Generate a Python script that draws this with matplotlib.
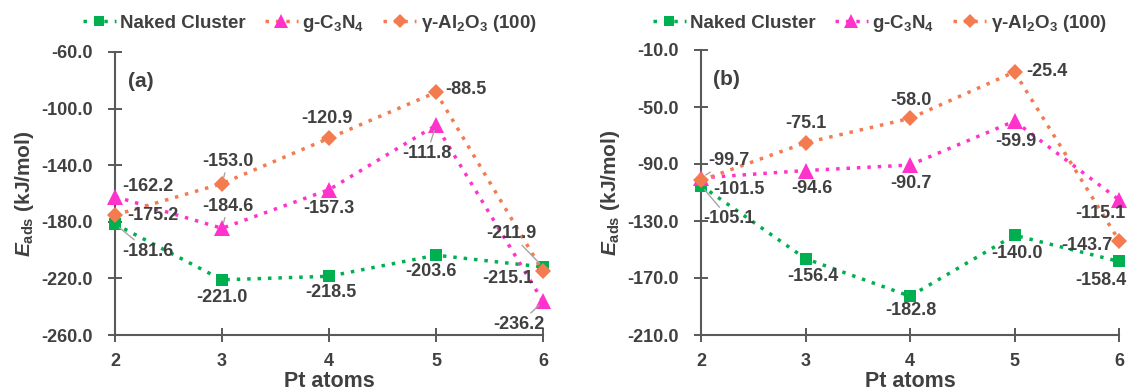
import matplotlib
matplotlib.use("Agg")
import matplotlib.pyplot as plt
from matplotlib.lines import Line2D

plt.rcParams['font.family'] = ['Liberation Sans', 'DejaVu Sans']
plt.rcParams['font.weight'] = 'bold'
plt.rcParams['mathtext.fontset'] = 'custom'
plt.rcParams['mathtext.rm'] = 'Liberation Sans:bold'
plt.rcParams['mathtext.bf'] = 'Liberation Sans:bold'
plt.rcParams['mathtext.it'] = 'Liberation Sans:bold:italic'

# ---- data ----
pt_atoms = [2, 3, 4, 5, 6]
series_names = ["Naked Cluster", "g-C$_{3}$N$_{4}$", "γ-Al$_{2}$O$_{3}$ (100)"]

a_naked = [-181.6, -221.0, -218.5, -203.6, -211.9]
a_gcn = [-162.2, -184.6, -157.3, -111.8, -236.2]
a_al2o3 = [-175.2, -153.0, -120.9, -88.5, -215.1]

b_naked = [-105.1, -156.4, -182.8, -140.0, -158.4]
b_gcn = [-99.7, -94.6, -90.7, -59.9, -115.1]
b_al2o3 = [-101.5, -75.1, -58.0, -25.4, -143.7]

a_yticks = [-260.0, -220.0, -180.0, -140.0, -100.0, -60.0]
b_yticks = [-210.0, -170.0, -130.0, -90.0, -50.0, -10.0]

# ---- styles ----
GREEN = '#00B050'
MAGENTA = '#FF33CC'
ORANGE = '#F47A4F'
TXT = '#404040'
SPINE = '#595959'
LEADER = '#A6A6A6'

colors = [GREEN, MAGENTA, ORANGE]
markers = ['s', '^', 'D']
msizes = [9, 11.5, 8.5]

# label offsets in pixels (dx, dy up) and leader flags
a_offsets = [
    [(33, -27), (0, -18), (2, -16), (-5, -16), (-32, 33)],
    [(33, 10), (6, 22), (0, -19), (-9, -28), (-24, -23)],
    [(38, 0), (6, 22), (-2, 20), (30, 3), (-35, -7)],
]
a_leaders = [
    [True, False, False, False, True],
    [False, True, False, True, True],
    [False, True, False, False, False],
]
b_offsets = [
    [(28, -33), (7, -18), (1, -14), (3, -18), (-18, -19)],
    [(28, 17), (6, -18), (1, -19), (1, -20), (-19, -14)],
    [(38, -9), (0, 19), (1, 18), (32, 0), (-32, -5)],
]
b_leaders = [
    [True, False, False, False, False],
    [True, False, False, False, False],
    [False, False, False, False, False],
]

W, H = 1127, 392
fig = plt.figure(figsize=(W / 100, H / 100), dpi=100)

def px_axes(l, r, t, b):
    return fig.add_axes([l / W, 1 - b / H, (r - l) / W, (b - t) / H])

ax_a = px_axes(115, 543, 52, 335)
ax_b = px_axes(701, 1119, 50, 335)

LBL = 13


def draw_panel(ax, data, yticks, offsets, leaders, tag):
    for i, vals in enumerate(data):
        ax.plot(pt_atoms, vals, linestyle=(0, (1, 2.0)), linewidth=2.5,
                color=colors[i], marker=markers[i], markersize=msizes[i],
                markeredgewidth=0, clip_on=False, zorder=3)
        for j, v in enumerate(vals):
            dx, dy = offsets[i][j]
            kw = dict(xy=(pt_atoms[j], v), xytext=(dx, dy),
                      textcoords='offset pixels', ha='center', va='center',
                      fontsize=LBL, fontweight='bold', color=TXT, zorder=5)
            if leaders[i][j]:
                kw['arrowprops'] = dict(arrowstyle='-', color=LEADER, lw=1,
                                        shrinkA=0, shrinkB=4)
            ax.annotate(f"{v:.1f}", **kw)
    ax.set_xlim(2, 6)
    ax.set_ylim(yticks[0], yticks[-1])
    ax.set_xticks(pt_atoms)
    ax.set_yticks(yticks)
    ax.set_yticklabels([f"{t:.1f}" for t in yticks])
    for s in ['top', 'right']:
        ax.spines[s].set_visible(False)
    for s in ['left', 'bottom']:
        ax.spines[s].set_color(SPINE)
        ax.spines[s].set_linewidth(1.5)
    ax.tick_params(direction='inout', length=10, width=1.4, color=SPINE,
                   labelsize=13, labelcolor=TXT)
    ax.tick_params(axis='y', pad=11)
    ax.tick_params(axis='x', pad=8)
    for lab in ax.get_xticklabels() + ax.get_yticklabels():
        lab.set_fontweight('bold')
    ax.set_xlabel("Pt atoms", fontsize=15.5, fontweight='bold', color=TXT, labelpad=1)
    ax.set_ylabel(r"$E_{\mathrm{ads}}$ (kJ/mol)", fontsize=15, fontweight='bold',
                  color=TXT, labelpad=4)
    ax.text(0.06, 0.895, tag, transform=ax.transAxes, fontsize=15,
            fontweight='bold', color=TXT, ha='center', va='center')
    ax.patch.set_alpha(0)


draw_panel(ax_a, [a_naked, a_gcn, a_al2o3], a_yticks, a_offsets, a_leaders, "(a)")
draw_panel(ax_b, [b_naked, b_gcn, b_al2o3], b_yticks, b_offsets, b_leaders, "(b)")


def make_handles(line_colors):
    hs = []
    for i in range(3):
        hs.append(Line2D([0], [0], linestyle=(0, (1, 2.0)), linewidth=2.5,
                         color=line_colors[i], marker=markers[i],
                         markersize=msizes[i] * 0.85, markerfacecolor=colors[i],
                         markeredgewidth=0))
    return hs

leg_kw = dict(ncol=3, frameon=False, handlelength=1.75, borderpad=0,
              handletextpad=0.25, columnspacing=1.0, labelcolor=TXT,
              prop=dict(weight='bold', size=13.5))

la = fig.legend(make_handles([GREEN, ORANGE, ORANGE]), series_names,
                loc='center right', bbox_to_anchor=(546 / W, 1 - 23 / H), **leg_kw)
lb = fig.legend(make_handles([GREEN, MAGENTA, ORANGE]), series_names,
                loc='center right', bbox_to_anchor=(1116 / W, 1 - 23 / H), **leg_kw)

fig.savefig("out.png", dpi=100)
